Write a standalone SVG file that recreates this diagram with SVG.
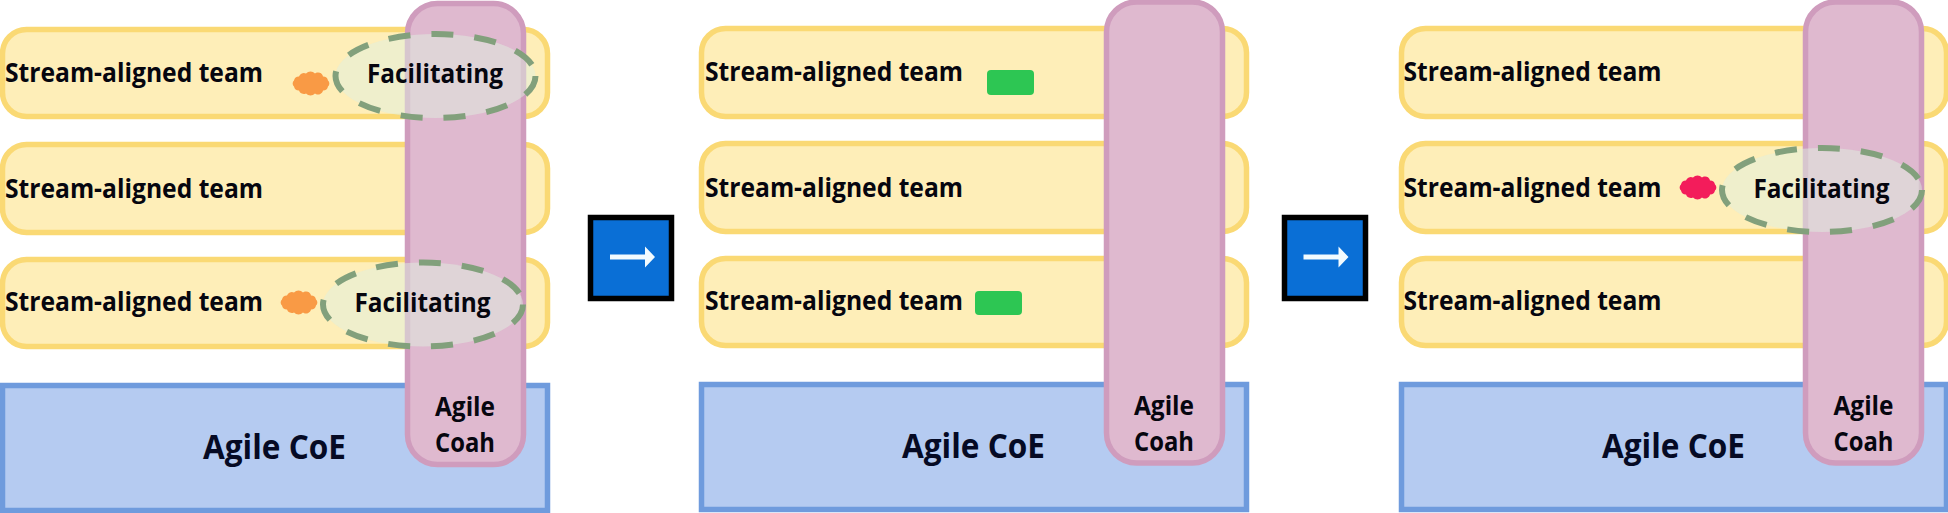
<svg xmlns="http://www.w3.org/2000/svg" width="1948" height="513" viewBox="0 0 1948 513">
<style>
text{font-family:"Open Sans","Noto Sans","Liberation Sans",sans-serif;font-weight:700;fill:#06060f}
.t{font-size:27px}
.f{font-size:27px}
.c{font-size:34.500px;fill:#050a24}
.a{font-size:27.500px;text-anchor:middle}
.y{fill:#feeeb8;stroke:#fad974;stroke-width:5.500}
.b{fill:#b5cbf1;stroke:#6f9bdd;stroke-width:5.500}
.p{fill:#dfb9cf;stroke:#cf9cbd;stroke-width:5.500}
.e{fill:#dff0e0;fill-opacity:.5;stroke:#82a07c;stroke-width:6;stroke-dasharray:22 21}
.bx{fill:#0a6fd6;stroke:#000;stroke-width:5.500}
.ar{fill:#f2fbff}
.g{fill:#2dc653}
</style>
<defs>
<path id="cloud" d="M-12-7A5 5 0 0 1-5-10A6 6 0 0 1 4-10A5 5 0 0 1 12-7A5 5 0 0 1 17-3A4 4 0 0 1 17 3A5 5 0 0 1 12 7A5 5 0 0 1 4 10A6 6 0 0 1-5 10A5 5 0 0 1-12 7A5 5 0 0 1-17 3A4 4 0 0 1-17-3A5 5 0 0 1-12-7Z"/>
<path id="arrow" d="M0-2.500H35V-10.500L45 0L35 10.500V2.500H0Z"/>
</defs>
<g id="panel-1">
<g id="p1-team-1"><rect class="y" x="2.500" y="29.500" width="545" height="87" rx="24"/><text class="t" x="5" y="82" textLength="258" lengthAdjust="spacingAndGlyphs">Stream-aligned team</text></g>
<g id="p1-team-2"><rect class="y" x="2.500" y="144.500" width="545" height="88" rx="24"/><text class="t" x="5" y="198" textLength="258" lengthAdjust="spacingAndGlyphs">Stream-aligned team</text></g>
<g id="p1-team-3"><rect class="y" x="2.500" y="259.500" width="545" height="87" rx="24"/><text class="t" x="5" y="311" textLength="258" lengthAdjust="spacingAndGlyphs">Stream-aligned team</text></g>
<g id="p1-coe"><rect class="b" x="2.500" y="385.500" width="545" height="125"/><text class="c" x="203" y="459" textLength="143" lengthAdjust="spacingAndGlyphs">Agile CoE</text></g>
<g id="p1-coach"><rect class="p" x="407.500" y="3.500" width="116" height="461" rx="30"/><text class="a" x="465" y="416" textLength="60" lengthAdjust="spacingAndGlyphs">Agile</text><text class="a" x="465" y="452" textLength="60" lengthAdjust="spacingAndGlyphs">Coah</text></g>
<use id="p1-cloud-1" href="#cloud" x="311" y="83.500" fill="#f99a45"/>
<use id="p1-cloud-2" href="#cloud" x="299" y="302.500" fill="#f99a45"/>
<g id="p1-facilitating-1"><ellipse class="e" cx="435.500" cy="76" rx="100" ry="42"/><text class="f" x="367" y="83" textLength="136" lengthAdjust="spacingAndGlyphs">Facilitating</text></g>
<g id="p1-facilitating-2"><ellipse class="e" cx="423" cy="304.500" rx="100" ry="42"/><text class="f" x="354.500" y="312" textLength="136" lengthAdjust="spacingAndGlyphs">Facilitating</text></g>
</g>
<g id="panel-2">
<g id="p2-team-1"><rect class="y" x="701.500" y="28.500" width="545" height="88" rx="24"/><text class="t" x="705" y="81" textLength="258" lengthAdjust="spacingAndGlyphs">Stream-aligned team</text></g>
<g id="p2-team-2"><rect class="y" x="701.500" y="143.500" width="545" height="88" rx="24"/><text class="t" x="705" y="197" textLength="258" lengthAdjust="spacingAndGlyphs">Stream-aligned team</text></g>
<g id="p2-team-3"><rect class="y" x="701.500" y="258.500" width="545" height="87" rx="24"/><text class="t" x="705" y="310" textLength="258" lengthAdjust="spacingAndGlyphs">Stream-aligned team</text></g>
<g id="p2-coe"><rect class="b" x="701.500" y="384.500" width="545" height="125"/><text class="c" x="902" y="458" textLength="143" lengthAdjust="spacingAndGlyphs">Agile CoE</text></g>
<g id="p2-coach"><rect class="p" x="1106.500" y="2" width="116" height="461" rx="30"/><text class="a" x="1164" y="415" textLength="60" lengthAdjust="spacingAndGlyphs">Agile</text><text class="a" x="1164" y="451" textLength="60" lengthAdjust="spacingAndGlyphs">Coah</text></g>
<rect id="p2-status-1" class="g" x="987" y="70" width="47" height="25" rx="4"/>
<rect id="p2-status-2" class="g" x="975" y="291" width="47" height="24" rx="4"/>
</g>
<g id="panel-3">
<g id="p3-team-1"><rect class="y" x="1401.500" y="28.500" width="545" height="88" rx="24"/><text class="t" x="1403.500" y="81" textLength="258" lengthAdjust="spacingAndGlyphs">Stream-aligned team</text></g>
<g id="p3-team-2"><rect class="y" x="1401.500" y="143.500" width="545" height="88" rx="24"/><text class="t" x="1403.500" y="197" textLength="258" lengthAdjust="spacingAndGlyphs">Stream-aligned team</text></g>
<g id="p3-team-3"><rect class="y" x="1401.500" y="258.500" width="545" height="87" rx="24"/><text class="t" x="1403.500" y="310" textLength="258" lengthAdjust="spacingAndGlyphs">Stream-aligned team</text></g>
<g id="p3-coe"><rect class="b" x="1401.500" y="384.500" width="545" height="125"/><text class="c" x="1602" y="458" textLength="143" lengthAdjust="spacingAndGlyphs">Agile CoE</text></g>
<g id="p3-coach"><rect class="p" x="1805.500" y="2" width="116" height="461" rx="30"/><text class="a" x="1863.500" y="415" textLength="60" lengthAdjust="spacingAndGlyphs">Agile</text><text class="a" x="1863.500" y="451" textLength="60" lengthAdjust="spacingAndGlyphs">Coah</text></g>
<use id="p3-cloud" href="#cloud" x="1698" y="187.500" fill="#f31c5b"/>
<g id="p3-facilitating"><ellipse class="e" cx="1822" cy="190" rx="100" ry="42"/><text class="f" x="1753.500" y="198" textLength="136" lengthAdjust="spacingAndGlyphs">Facilitating</text></g>
</g>
<g id="connectors">
<g id="step-1"><rect class="bx" x="590.500" y="217.500" width="81" height="81"/><use class="ar" href="#arrow" x="610" y="257"/></g>
<g id="step-2"><rect class="bx" x="1284.500" y="217.500" width="81" height="81"/><use class="ar" href="#arrow" x="1303.500" y="257"/></g>
</g>
</svg>
